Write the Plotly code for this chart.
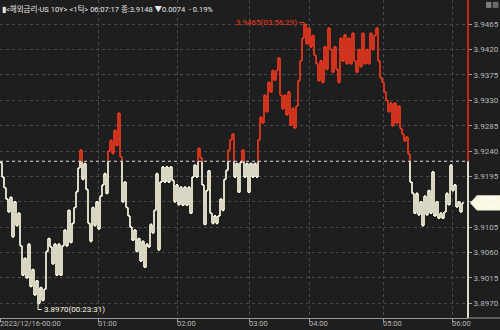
import plotly.graph_objects as go

# ---------------- data ----------------
PRICE = [
    3.9220, 3.9194, 3.9175, 3.9155, 3.9132, 3.9158, 3.9088, 3.9150, 3.9108, 3.9130,
    3.9072, 3.9020, 3.9050, 3.9015, 3.9075, 3.9000, 3.9030, 3.8985, 3.9010, 3.8970,
    3.8998, 3.8975, 3.8995, 3.9062, 3.9085, 3.9070, 3.9040, 3.9075, 3.9020, 3.9075,
    3.9020, 3.9072, 3.9100, 3.9072, 3.9135, 3.9078, 3.9112, 3.9140, 3.9168, 3.9210,
    3.9242, 3.9190, 3.9218, 3.9172, 3.9112, 3.9080, 3.9140, 3.9108, 3.9150, 3.9102,
    3.9160, 3.9180, 3.9200, 3.9165, 3.9240, 3.9259, 3.9236, 3.9277, 3.9250, 3.9307,
    3.9230, 3.9150, 3.9185, 3.9140, 3.9125, 3.9105, 3.9082, 3.9100, 3.9062, 3.9085,
    3.9045, 3.9080, 3.9034, 3.9075, 3.9070, 3.9110, 3.9095, 3.9135, 3.9200, 3.9065,
    3.9185, 3.9212, 3.9185, 3.9212, 3.9185, 3.9212, 3.9188, 3.9150, 3.9180, 3.9145,
    3.9176, 3.9144, 3.9176, 3.9144, 3.9176, 3.9130, 3.9194, 3.9215, 3.9194, 3.9245,
    3.9228, 3.9180, 3.9110, 3.9170, 3.9205, 3.9130, 3.9112, 3.9125, 3.9112, 3.9125,
    3.9155, 3.9135, 3.9190, 3.9206, 3.9242, 3.9260, 3.9270, 3.9194, 3.9218, 3.9167,
    3.9220, 3.9242, 3.9194, 3.9218, 3.9167, 3.9218, 3.9194, 3.9218, 3.9194, 3.9260,
    3.9300, 3.9290, 3.9339, 3.9310, 3.9362, 3.9345, 3.9383, 3.9366, 3.9383, 3.9405,
    3.9339, 3.9315, 3.9339, 3.9304, 3.9345, 3.9286, 3.9316, 3.9281, 3.9320, 3.9365,
    3.9400, 3.9440, 3.9465, 3.9430, 3.9458, 3.9425, 3.9445, 3.9410, 3.9395, 3.9365,
    3.9400, 3.9362, 3.9425, 3.9385, 3.9458, 3.9420, 3.9380, 3.9425, 3.9385, 3.9362,
    3.9440, 3.9400, 3.9446, 3.9395, 3.9440, 3.9395, 3.9449, 3.9400, 3.9380, 3.9420,
    3.9390, 3.9449, 3.9395, 3.9420, 3.9395, 3.9449, 3.9420, 3.9445, 3.9458, 3.9400,
    3.9370, 3.9362, 3.9345, 3.9330, 3.9310, 3.9325, 3.9285, 3.9325, 3.9290, 3.9320,
    3.9280, 3.9270, 3.9258, 3.9265, 3.9235, 3.9185, 3.9165, 3.9130, 3.9165, 3.9127,
    3.9150, 3.9108, 3.9160, 3.9127, 3.9170, 3.9130, 3.9203, 3.9125, 3.9150, 3.9121,
    3.9130, 3.9121, 3.9132, 3.9165, 3.9145, 3.9215, 3.9170, 3.9180, 3.9141, 3.9150,
    3.9132, 3.9148,
]
PREV_CLOSE = 3.9222
LAST = 3.9148
CHANGE = 0.0074
CHANGE_PCT = 0.19
TIME_LABELS = ["2023/12/16-00:00", "01:00", "02:00", "03:00", "04:00", "05:00", "06:00"]
TIME_IDX = [0, 49, 88.5, 124.5, 154.5, 191.5, 226]
Y_TICKS = [3.8970, 3.9015, 3.9060, 3.9105, 3.9150, 3.9195, 3.9240,
           3.9285, 3.9330, 3.9375, 3.9420, 3.9465]
MAX_TIME = "03:56:29"
MIN_TIME = "00:23:31"
TITLE = "<해외금리-US 10Y> <1틱> 06:07:17 종:3.9148 ▼0.0074  - 0.19%"

RED = "#f0381e"
CREAM = "#fbf8e2"
BG = "#1e1e1e"
GRID = "#4a4a4a"
AXIS_TXT = "#b8b8b8"
FONT = "Liberation Sans Narrow, Roboto, Noto Sans CJK KR, sans-serif"
Y_RANGE = [3.8944, 3.9508]
X_RANGE = [0, 234]

# ------------- build step segments split at previous close -------------
rx, ry, wx, wy = [], [], [], []


def add(seg_x, seg_y, above):
    if above:
        rx.extend(seg_x + [None]); ry.extend(seg_y + [None])
    else:
        wx.extend(seg_x + [None]); wy.extend(seg_y + [None])


n = len(PRICE)
for i, v in enumerate(PRICE):
    add([i, i + 1], [v, v], v > PREV_CLOSE)
    if i < n - 1:
        v2 = PRICE[i + 1]
        a1, a2 = v > PREV_CLOSE, v2 > PREV_CLOSE
        if a1 == a2:
            add([i + 1, i + 1], [v, v2], a1)
        else:
            add([i + 1, i + 1], [v, PREV_CLOSE], a1)
            add([i + 1, i + 1], [PREV_CLOSE, v2], a2)

fig = go.Figure()
fig.add_trace(go.Scatter(x=wx, y=wy, mode="lines", line=dict(color=CREAM, width=1.7),
                         connectgaps=False, hoverinfo="skip"))
fig.add_trace(go.Scatter(x=rx, y=ry, mode="lines", line=dict(color=RED, width=1.7),
                         connectgaps=False, hoverinfo="skip"))

imax = max(range(n), key=lambda k: PRICE[k])
imin = min(range(n), key=lambda k: PRICE[k])
vmax, vmin = PRICE[imax], PRICE[imin]

shapes = [
    dict(type="line", xref="x", yref="y", x0=X_RANGE[0], x1=X_RANGE[1], y0=PREV_CLOSE, y1=PREV_CLOSE,
         line=dict(color="#e0e0e0", width=1, dash="dot")),
    dict(type="line", xref="paper", yref="y", x0=1, x1=1, y0=PREV_CLOSE, y1=Y_RANGE[1],
         line=dict(color="#c0281a", width=2)),
    dict(type="line", xref="paper", yref="y", x0=1, x1=1, y0=Y_RANGE[0], y1=PREV_CLOSE,
         line=dict(color="#dedccb", width=2)),
    dict(type="line", xref="paper", yref="paper", x0=1, x1=1.07, y0=0, y1=0,
         line=dict(color="#9a9a9a", width=1)),
    dict(type="path", xref="x", yref="y",
         path=f"M {imax-2.6},{vmax+0.0003} L {imax},{vmax+0.0003} L {imax},{vmax}",
         line=dict(color=RED, width=1)),
    dict(type="path", xref="x", yref="y",
         path=f"M {imin},{vmin} L {imin},{vmin-0.0011} L {imin+1.8},{vmin-0.0011}",
         line=dict(color=CREAM, width=1)),
    dict(type="path", xref="paper", yref="y",
         path=(f"M 1.0043,{LAST} L 1.0192,{LAST+0.00135} L 1.0684,{LAST+0.00135} "
               f"L 1.0684,{LAST-0.00135} L 1.0192,{LAST-0.00135} Z"),
         fillcolor=CREAM, line=dict(color=CREAM, width=0), layer="above"),
    dict(type="rect", xref="paper", yref="paper", x0=1.0385, x1=1.0500, y0=0.9750, y1=0.9940,
         fillcolor="#7c7c7c", line=dict(width=0)),
    dict(type="rect", xref="paper", yref="paper", x0=1.0530, x1=1.0650, y0=0.9750, y1=0.9940,
         fillcolor="#6a6a6a", line=dict(width=0)),
]

annotations = [
    dict(text="▮" + TITLE, xref="paper", yref="paper", x=0.0, y=1.0, xanchor="left", yanchor="top",
         yshift=-2, showarrow=False, font=dict(family=FONT, size=7.5, color="#e6e6e6")),
    dict(text=f"{vmax:.4f}({MAX_TIME})", xref="x", yref="y", x=imax - 2.6, y=vmax + 0.0003,
         xanchor="right", yanchor="middle", showarrow=False,
         font=dict(family=FONT, size=8, color=RED)),
    dict(text=f"{vmin:.4f}({MIN_TIME})", xref="x", yref="y", x=imin + 1.8, y=vmin - 0.0011,
         xanchor="left", yanchor="middle", showarrow=False,
         font=dict(family=FONT, size=8, color=CREAM)),
    dict(text=f"{LAST:.4f}<br>-{CHANGE_PCT:.2f}%", xref="paper", yref="y", x=1.02, y=LAST,
         xanchor="left", yanchor="middle", showarrow=False,
         font=dict(family=FONT, size=6, color="#ffffff")),
]
for lbl, pos in zip(TIME_LABELS, TIME_IDX):
    annotations.append(dict(text=lbl, xref="x", yref="paper", x=pos, y=0, xanchor="left",
                            yanchor="top", xshift=-2, yshift=1, showarrow=False,
                            font=dict(family=FONT, size=7.5, color=AXIS_TXT)))

fig.update_layout(
    width=500, height=330,
    paper_bgcolor=BG, plot_bgcolor=BG,
    margin=dict(l=0, r=32, t=0, b=12),
    showlegend=False,
    shapes=shapes, annotations=annotations,
    xaxis=dict(range=X_RANGE, tickvals=TIME_IDX, ticktext=[""] * len(TIME_IDX),
               ticks="outside", ticklen=3, tickcolor="#9a9a9a",
               showgrid=True, gridcolor=GRID, griddash="dot", gridwidth=1,
               showline=True, linecolor="#9a9a9a", linewidth=1, zeroline=False,
               fixedrange=True),
    yaxis=dict(range=Y_RANGE, side="right", tickvals=Y_TICKS,
               ticktext=["" if abs(t - 3.9150) < 1e-9 else f"{t:.4f}" for t in Y_TICKS],
               ticks="outside", ticklen=3, tickcolor="#9a9a9a",
               tickfont=dict(family=FONT, size=8, color=AXIS_TXT),
               showgrid=True, gridcolor=GRID, griddash="dot", gridwidth=1,
               showline=False, zeroline=False, fixedrange=True),
)

fig.write_html("out.html")
